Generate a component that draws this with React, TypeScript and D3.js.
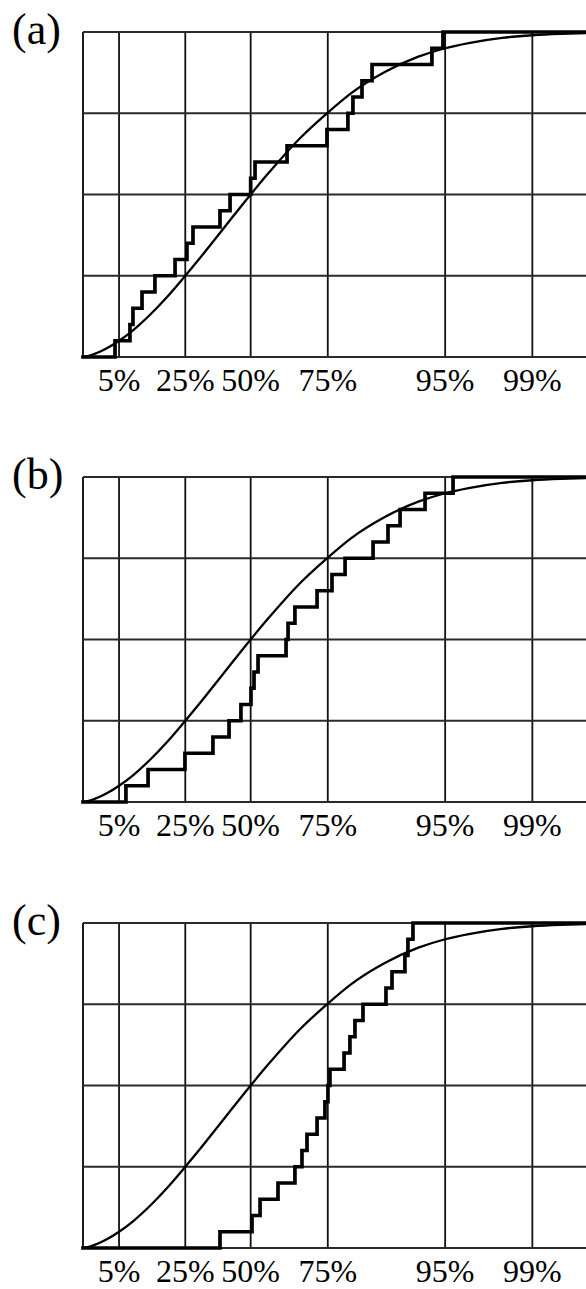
import React from 'react';
import * as d3 from 'd3';

// Quantile tick labels and their positions on the value axis
const quantileLabels = ['5%', '25%', '50%', '75%', '95%', '99%'];
const quantileValues = [0.215, 0.61, 1.0, 1.46, 2.16, 2.68];

// Horizontal grid levels (cumulative probability)
const probTicks = [0, 0.25, 0.5, 0.75, 1];

// Theoretical CDF, points estimated along the smooth curve in the picture
const cdfX = [0, 0.05, 0.1, 0.15, 0.215, 0.3, 0.4, 0.5, 0.61, 0.7, 0.8, 0.9, 1.0,
  1.1, 1.2, 1.3, 1.46, 1.6, 1.8, 2.0, 2.16, 2.3, 2.5, 2.68, 2.85, 3.0];
const cdfY = [0, 0.006, 0.016, 0.029, 0.05, 0.083, 0.13, 0.184, 0.25, 0.306, 0.371, 0.436, 0.5,
  0.562, 0.621, 0.676, 0.752, 0.812, 0.877, 0.924, 0.95, 0.966, 0.982, 0.99, 0.9945, 0.997];

// Samples (sorted) whose empirical CDF is drawn as a staircase
const sampleA = [0.191, 0.28, 0.298, 0.352, 0.429, 0.549, 0.62, 0.656, 0.817, 0.877,
  1.0, 1.026, 1.217, 1.455, 1.58, 1.61, 1.664, 1.724, 2.081, 2.147];
const sampleB = [0.256, 0.388, 0.608, 0.775, 0.871, 0.942, 1.002, 1.02, 1.044, 1.211,
  1.223, 1.264, 1.396, 1.485, 1.563, 1.73, 1.819, 1.891, 2.04, 2.207];
const sampleC = [0.817, 1.008, 1.056, 1.163, 1.264, 1.306, 1.336, 1.396, 1.443, 1.461,
  1.473, 1.557, 1.592, 1.622, 1.67, 1.807, 1.843, 1.92, 1.938, 1.968];

const panelNames = ['(a)', '(b)', '(c)'];
const xDomain = [0, 3.0];

const W = 586;
const H = 1289;
const LEFT = 83;
const PANEL_TOPS = [32, 477, 923];
const PANEL_H = 325;
const FONT = '"Liberation Serif", "Times New Roman", serif';

export default function App() {
  const samples = [sampleA, sampleB, sampleC];
  const x = d3.scaleLinear().domain(xDomain).range([LEFT, W]);

  return (
    <svg
      width={W}
      height={H}
      viewBox={`0 0 ${W} ${H}`}
      style={{ position: 'absolute', left: 0, top: 0, background: '#fff' }}
    >
      <rect x={0} y={0} width={W} height={H} fill="#fff" />
      {samples.map((s, i) => {
        const top = PANEL_TOPS[i];
        const y = d3.scaleLinear().domain([0, 1]).range([top + PANEL_H, top]);
        const curvePath = d3
          .line<number>()
          .x((_, j) => x(cdfX[j]))
          .y((d) => y(d))
          .curve(d3.curveMonotoneX)(cdfY) as string;
        const n = s.length;
        const pts: [number, number][] = [
          [xDomain[0], 0],
          ...s.map((v, k) => [v, (k + 1) / n] as [number, number]),
          [xDomain[1], 1],
        ];
        const stepPath = d3
          .line<[number, number]>()
          .x((d) => x(d[0]))
          .y((d) => y(d[1]))
          .curve(d3.curveStepAfter)(pts) as string;
        return (
          <g key={i}>
            {/* vertical grid */}
            <line x1={x(0)} x2={x(0)} y1={y(0)} y2={y(1)} stroke="#111" strokeWidth={1.9} />
            {quantileValues.map((q, k) => (
              <line key={k} x1={x(q)} x2={x(q)} y1={y(0)} y2={y(1)} stroke="#111" strokeWidth={1.8} />
            ))}
            {/* horizontal grid */}
            {probTicks.map((p, k) => (
              <line key={k} x1={x(0)} x2={W} y1={y(p)} y2={y(p)} stroke="#2a2a2a" strokeWidth={2.1} />
            ))}
            {/* theoretical CDF */}
            <path d={curvePath} fill="none" stroke="#000" strokeWidth={2.3} />
            {/* empirical CDF */}
            <path d={stepPath} fill="none" stroke="#000" strokeWidth={3.7} strokeLinejoin="miter" strokeLinecap="square" />
            {/* tick labels */}
            {quantileLabels.map((lab, k) => (
              <text
                key={k}
                x={x(quantileValues[k])}
                y={y(0) + 34}
                textAnchor="middle"
                fontFamily={FONT}
                fontSize={32}
                fill="#000"
              >
                {lab}
              </text>
            ))}
            {/* panel label */}
            <text x={12} y={top + 12} fontFamily={FONT} fontSize={44} fill="#000">
              {panelNames[i]}
            </text>
          </g>
        );
      })}
    </svg>
  );
}
